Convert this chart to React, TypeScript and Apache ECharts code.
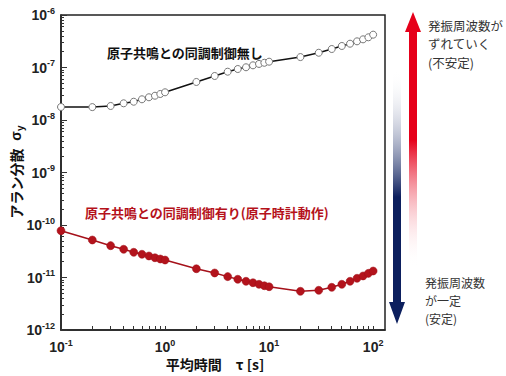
import React, { useEffect, useRef } from "react";
import * as echarts from "echarts";

const tau = [0.1, 0.2, 0.3, 0.4, 0.5, 0.6, 0.7, 0.8, 0.9, 1, 2, 3, 4, 5, 6, 7, 8, 9, 10, 20, 30, 40, 50, 60, 70, 80, 90, 100];
const withoutLock = [1.77e-8, 1.76e-8, 1.85e-8, 2.08e-8, 2.23e-8, 2.48e-8, 2.71e-8, 2.9e-8, 3.13e-8, 3.37e-8, 5.3e-8, 6.89e-8, 8.32e-8, 9.36e-8, 1.01e-7, 1.1e-7, 1.17e-7, 1.23e-7, 1.29e-7, 1.58e-7, 1.91e-7, 2.25e-7, 2.57e-7, 2.84e-7, 3.15e-7, 3.44e-7, 3.76e-7, 4.22e-7];
const withLock = [7.79e-11, 5.18e-11, 4.04e-11, 3.45e-11, 3.02e-11, 2.77e-11, 2.57e-11, 2.38e-11, 2.25e-11, 2.15e-11, 1.47e-11, 1.22e-11, 1.04e-11, 9.25e-12, 8.47e-12, 7.96e-12, 7.42e-12, 6.98e-12, 6.68e-12, 5.46e-12, 5.7e-12, 6.5e-12, 7.42e-12, 8.47e-12, 9.66e-12, 1.07e-11, 1.2e-11, 1.33e-11];

const xTitle = "平均時間　τ [s]";
const yTitle = "アラン分散";
const labelWithout = "原子共鳴との同調制御無し";
const labelWith = "原子共鳴との同調制御有り(原子時計動作)";
const upText = ["発振周波数が", "ずれていく", "(不安定)"];
const downText = ["発振周波数", "が一定", "(安定)"];

const LAT = "'Liberation Sans', Arial, sans-serif";
const JP = "'Noto Sans CJK JP', sans-serif";

const powLabel = (v: number) => {
  const e = Math.round(Math.log10(v));
  if (Math.abs(Math.log10(v) - e) > 1e-6) return "";
  return `{b|10}{s|${e}}`;
};

const rich = {
  b: { fontSize: 14, fontWeight: "bold", fontFamily: LAT, color: "#222", lineHeight: 18 },
  s: { fontSize: 9, fontWeight: "bold", fontFamily: LAT, color: "#222", lineHeight: 10, verticalAlign: "top" },
};

export default function App() {
  const ref = useRef<HTMLDivElement>(null);
  useEffect(() => {
    if (!ref.current) return;
    const chart = echarts.init(ref.current, undefined, { renderer: "svg" });
    const pairs = (ys: number[]) => tau.map((t, i) => [t, ys[i]]);
    chart.setOption({
      animation: false,
      backgroundColor: "#fff",
      grid: [
        { left: 61, top: 15, right: 121, bottom: 46, show: true, borderColor: "#222", borderWidth: 1.5, backgroundColor: "transparent" },
        { left: 61, top: 15, width: 312, bottom: 46, show: false },
      ],
      xAxis: [
        {
          type: "log",
          gridIndex: 0,
          min: 0.1,
          max: 130,
          axisLine: { show: true, lineStyle: { color: "#222", width: 1.5 } },
          axisTick: { show: false },
          minorTick: { show: false },
          splitLine: { show: false },
          axisLabel: { formatter: powLabel, rich, margin: 8, showMaxLabel: false },
        },
        {
          type: "log",
          gridIndex: 1,
          min: 0.1,
          max: 100,
          axisLine: { show: false },
          axisTick: { show: true, inside: true, length: 4, lineStyle: { color: "#333" } },
          minorTick: { show: true, splitNumber: 9, length: 4, lineStyle: { color: "#333" } },
          splitLine: { show: false },
          axisLabel: { show: false },
        },
      ],
      yAxis: [
        {
          type: "log",
          gridIndex: 0,
          min: 1e-12,
          max: 1e-6,
          axisLine: { show: true, lineStyle: { color: "#222", width: 1.5 } },
          axisTick: { show: true, inside: true, length: 6, lineStyle: { color: "#333" } },
          minorTick: { show: true, splitNumber: 9, length: 3, lineStyle: { color: "#333" } },
          splitLine: { show: false },
          axisLabel: { formatter: powLabel, rich, margin: 6 },
        },
        { type: "log", gridIndex: 1, min: 1e-12, max: 1e-6, show: false },
      ],
      series: [
        {
          type: "line",
          xAxisIndex: 0,
          yAxisIndex: 0,
          data: pairs(withoutLock),
          symbol: "circle",
          symbolSize: 7,
          lineStyle: { color: "#111", width: 1.5 },
          itemStyle: { color: "#fff", borderColor: "#777", borderWidth: 1 },
          z: 3,
        },
        {
          type: "line",
          xAxisIndex: 0,
          yAxisIndex: 0,
          data: pairs(withLock),
          symbol: "circle",
          symbolSize: 8,
          lineStyle: { color: "#a5111a", width: 1.5 },
          itemStyle: { color: "#b3131c", borderColor: "#9e0f16", borderWidth: 0.5 },
          z: 3,
        },
      ],
      graphic: [
        { type: "text", x: 107, y: 52, style: { text: labelWithout, font: `bold 13px ${JP}`, fill: "#111", textVerticalAlign: "middle" } },
        { type: "text", x: 85, y: 212, style: { text: labelWith, font: `bold 13px ${JP}`, fill: "#b5121b", textVerticalAlign: "middle" } },
        { type: "text", x: 215, y: 364, style: { text: xTitle, font: `bold 14px ${JP}`, fill: "#111", textAlign: "center", textVerticalAlign: "middle" } },
        {
          type: "text",
          x: 16,
          y: 172,
          rotation: Math.PI / 2,
          style: {
            text: `{a|${yTitle}}{g|  σ}{y|y}`,
            align: "center",
            verticalAlign: "middle",
            rich: {
              a: { font: `bold 14px ${JP}`, fill: "#111", lineHeight: 18 },
              g: { font: `bold 14px ${LAT}`, fill: "#111", lineHeight: 18 },
              y: { font: `bold 10px ${LAT}`, fill: "#111", lineHeight: 12, verticalAlign: "bottom" },
            },
          },
        },
        {
          type: "polygon",
          shape: { points: [[409, 267], [409, 32], [405, 32], [413, 12], [421, 32], [417, 32], [417, 267]] },
          style: {
            fill: new echarts.graphic.LinearGradient(0, 0, 0, 1, [
              { offset: 0, color: "#e6001a" },
              { offset: 0.5, color: "#e6001a" },
              { offset: 1, color: "rgba(255,255,255,0)" },
            ]),
          },
        },
        {
          type: "polygon",
          shape: { points: [[393, 70], [393, 302], [389, 302], [397, 324], [405, 302], [401, 302], [401, 70]] },
          style: {
            fill: new echarts.graphic.LinearGradient(0, 0, 0, 1, [
              { offset: 0, color: "rgba(255,255,255,0)" },
              { offset: 0.5, color: "#0c1f5e" },
              { offset: 1, color: "#0c1f5e" },
            ]),
          },
        },
        { type: "text", x: 428, y: 16, style: { text: upText.join("\n"), font: `12.5px ${JP}`, lineHeight: 18.5, fill: "#333", textVerticalAlign: "top" } },
        { type: "text", x: 425, y: 273, style: { text: downText.join("\n"), font: `12px ${JP}`, lineHeight: 18, fill: "#333", textVerticalAlign: "top" } },
      ],
    });
    return () => chart.dispose();
  }, []);
  return <div ref={ref} style={{ position: "fixed", left: 0, top: 0, width: 506, height: 376 }} />;
}
